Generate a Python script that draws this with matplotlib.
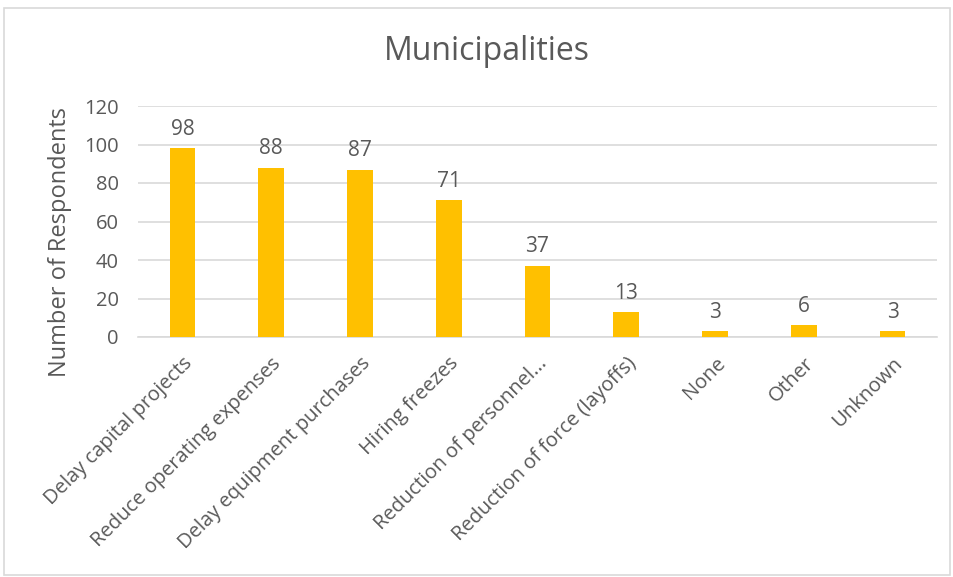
import matplotlib
matplotlib.use('Agg')
from matplotlib import pyplot as plt
from matplotlib.patches import Rectangle

categories = ['Delay capital projects', 'Reduce operating expenses',
              'Delay equipment purchases', 'Hiring freezes',
              'Reduction of personnel...', 'Reduction of force (layoffs)',
              'None', 'Other', 'Unknown']
respondents = [98, 88, 87, 71, 37, 13, 3, 6, 3]
y_ticks = [0, 20, 40, 60, 80, 100, 120]

TEXT = '#595959'
BAR = '#FFC000'
GRID = '#d9d9d9'

plt.rcParams['font.family'] = ['Open Sans', 'DejaVu Sans']

fig = plt.figure(figsize=(9.54, 5.77), dpi=100)
fig.patches.append(Rectangle((4 / 954, 2 / 577), 946 / 954, 567 / 577,
                             transform=fig.transFigure, fill=False,
                             edgecolor=GRID, linewidth=1.2))

ax = fig.add_axes([138 / 954, 1 - 337 / 577, (937 - 138) / 954, (337 - 106) / 577])
x = range(len(categories))
bars = ax.bar(x, respondents, width=0.29, color=BAR, zorder=3)

for b, v in zip(bars, respondents):
    ax.annotate(str(v), (b.get_x() + b.get_width() / 2, v), xytext=(0, 6),
                textcoords='offset points', ha='center', va='bottom',
                fontsize=15, color=TEXT)

ax.set_xlim(-0.5, len(categories) - 0.5)
ax.set_ylim(0, 120)
ax.set_yticks(y_ticks)
ax.set_xticks(list(x))
ax.set_xticklabels(categories, rotation=45, ha='right', rotation_mode='anchor',
                   fontsize=14.5, color=TEXT)
ax.tick_params(axis='y', labelsize=14.5, labelcolor=TEXT, length=0, pad=14)
ax.tick_params(axis='x', length=0, pad=12)
ax.grid(axis='y', color=GRID, linewidth=1.2, zorder=0)
for s in ['top', 'right', 'left']:
    ax.spines[s].set_visible(False)
ax.spines['bottom'].set_color(GRID)
ax.spines['bottom'].set_linewidth(1.2)

ax.set_ylabel('Number of Respondents', fontsize=17, color=TEXT)
ax.yaxis.set_label_coords(-0.083, 0.41)
fig.text(487 / 954, 1 - 52 / 577, 'Municipalities', ha='center', va='center',
         fontsize=23, color=TEXT)

fig.savefig('out.png', dpi=100)
